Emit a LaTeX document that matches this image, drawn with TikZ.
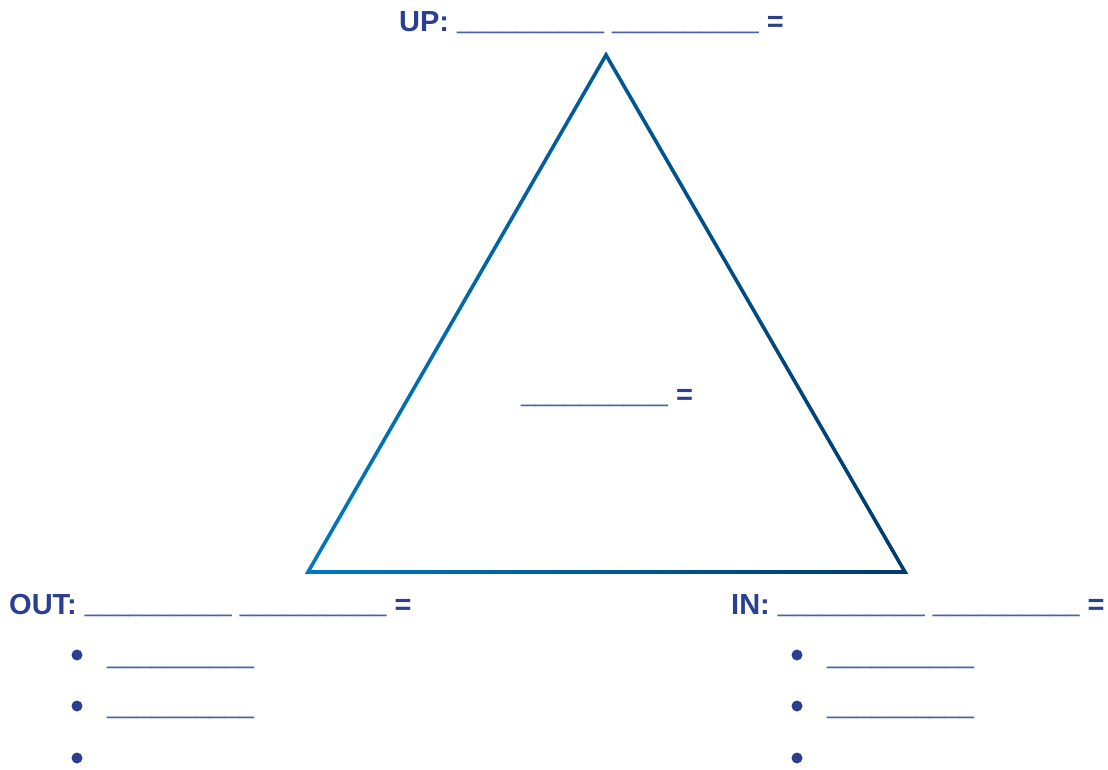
\documentclass[tikz,border=0pt]{standalone}
\usepackage{fontspec}
\setmainfont{Liberation Sans}
\usetikzlibrary{calc}
\definecolor{navy}{HTML}{2A3F8F}
\definecolor{blankline}{HTML}{4C63A9}
\definecolor{tribright}{HTML}{0078C1}
\definecolor{tridark}{HTML}{003A6B}
\newcommand{\blank}{{\fontsize{26.4}{32}\selectfont\mdseries\color{blankline}\raisebox{3pt}{\_\_\_\_\_\_\_\_\_\_}}}

\begin{document}
\begin{tikzpicture}[x=1pt,y=-1pt]
  \tikzset{lbl/.style={anchor=base west, inner sep=0pt, text=navy, font=\fontsize{29}{34}\selectfont\bfseries},
           dot/.style={circle, fill=navy, inner sep=0pt, minimum size=11pt}}
  \useasboundingbox (0,0) rectangle (1108,770);
  % triangle corners
  \coordinate (apex) at (606,55);
  \coordinate (lcorner) at (308,572);
  \coordinate (rcorner) at (905,572);
  \coordinate (mid) at (606.25,399.66);
  % outline as a thin band, shaded left to right
  \shade[left color=tribright, right color=tridark, even odd rule]
    ($(mid)!1.0104!(apex)$) -- ($(mid)!1.0104!(lcorner)$) -- ($(mid)!1.0104!(rcorner)$) -- cycle
    ($(mid)!0.9896!(apex)$) -- ($(mid)!0.9896!(lcorner)$) -- ($(mid)!0.9896!(rcorner)$) -- cycle;
  % labels
  \node[lbl] (up) at (399,32) {UP: \blank\ \blank\ =};
  \node[lbl] (centre) at (521,404) {\blank\ =};
  \node[lbl] (out) at (9,614) {OUT: \blank\ \blank\ =};
  \node[lbl] (in) at (731,614) {IN: \blank\ \blank\ =};
  % bullet lists
  \foreach \x/\side in {77/out,797/in}{
    \foreach \y [count=\i] in {655,706,758}
      \node[dot] (\side dot\i) at (\x,\y) {};
  }
  \foreach \x/\side in {107/out,827/in}{
    \foreach \y [count=\i] in {666,716}
      \node[lbl] (\side item\i) at (\x,\y) {\blank};
  }
\end{tikzpicture}
\end{document}
